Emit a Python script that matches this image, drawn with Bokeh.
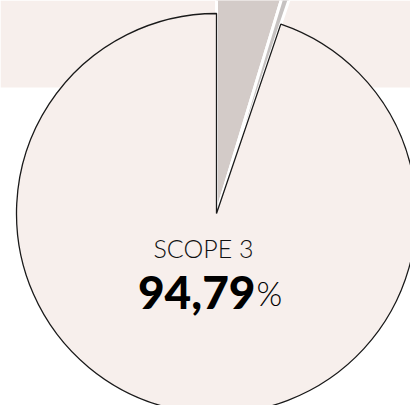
import math
from bokeh.plotting import figure
from bokeh.models import Range1d, BoxAnnotation, ColumnDataSource
from bokeh.core.properties import value
from bokeh.embed import file_html
from bokeh.resources import INLINE

# ---- data ----
categories = ["SCOPE 1", "SCOPE 2", "SCOPE 3"]
shares = [4.69, 0.52, 94.79]          # percent, clockwise from 12 o'clock
main_label = "SCOPE 3"
main_value = "94,79"

# ---- styles ----
fills = ["#d3cbc8", "#c6c2c1", "#f7efec"]
lines = ["white", "white", "#1a1a1a"]
line_widths = [3, 3, 1.3]
radii = [240, 240, 200]

W, H = 410, 405
p = figure(width=W, height=H, output_backend="svg", toolbar_location=None,
           x_range=Range1d(0, W), y_range=Range1d(-H, 0),
           min_border=0, outline_line_color=None, tools="")
p.axis.visible = False
p.grid.visible = False
p.background_fill_color = "white"
p.border_fill_color = "white"

# pink band behind the top of the chart
p.add_layout(BoxAnnotation(bottom=-87, fill_color="#f7efec", fill_alpha=1.0,
                           line_color=None, level="underlay"))

cx, cy = 216, -213
cum = 0.0
starts, ends = [], []
for s in shares:
    starts.append(math.pi / 2 - cum / 100 * 2 * math.pi)
    cum += s
    ends.append(math.pi / 2 - cum / 100 * 2 * math.pi)

src = ColumnDataSource(dict(cat=categories, share=shares, start=starts, end=ends,
                            fill=fills, line=lines, lw=line_widths, r=radii,
                            x=[cx] * 3, y=[cy] * 3))
# small slices first, big slice on top
for i in [0, 1, 2]:
    p.wedge(x=src.data["x"][i], y=src.data["y"][i], radius=radii[i],
            start_angle=starts[i], end_angle=ends[i], direction="clock",
            fill_color=fills[i], line_color=lines[i], line_width=line_widths[i])

p.text(x=[203], y=[-247], text=[main_label], text_align="center",
       text_baseline="alphabetic", text_font=value("Lato Light"),
       text_font_size="25px", text_color="#111111")
p.text(x=[255], y=[-292], text=[main_value], text_align="right",
       text_baseline="alphabetic", text_font=value("Lato Black"),
       text_font_size="46px", text_color="#000000")
p.text(x=[256], y=[-292], text=["%"], text_align="left",
       text_baseline="alphabetic", text_font=value("Lato Light"),
       text_font_size="33px", text_color="#000000")

open("out.html", "w").write(file_html(p, INLINE))
